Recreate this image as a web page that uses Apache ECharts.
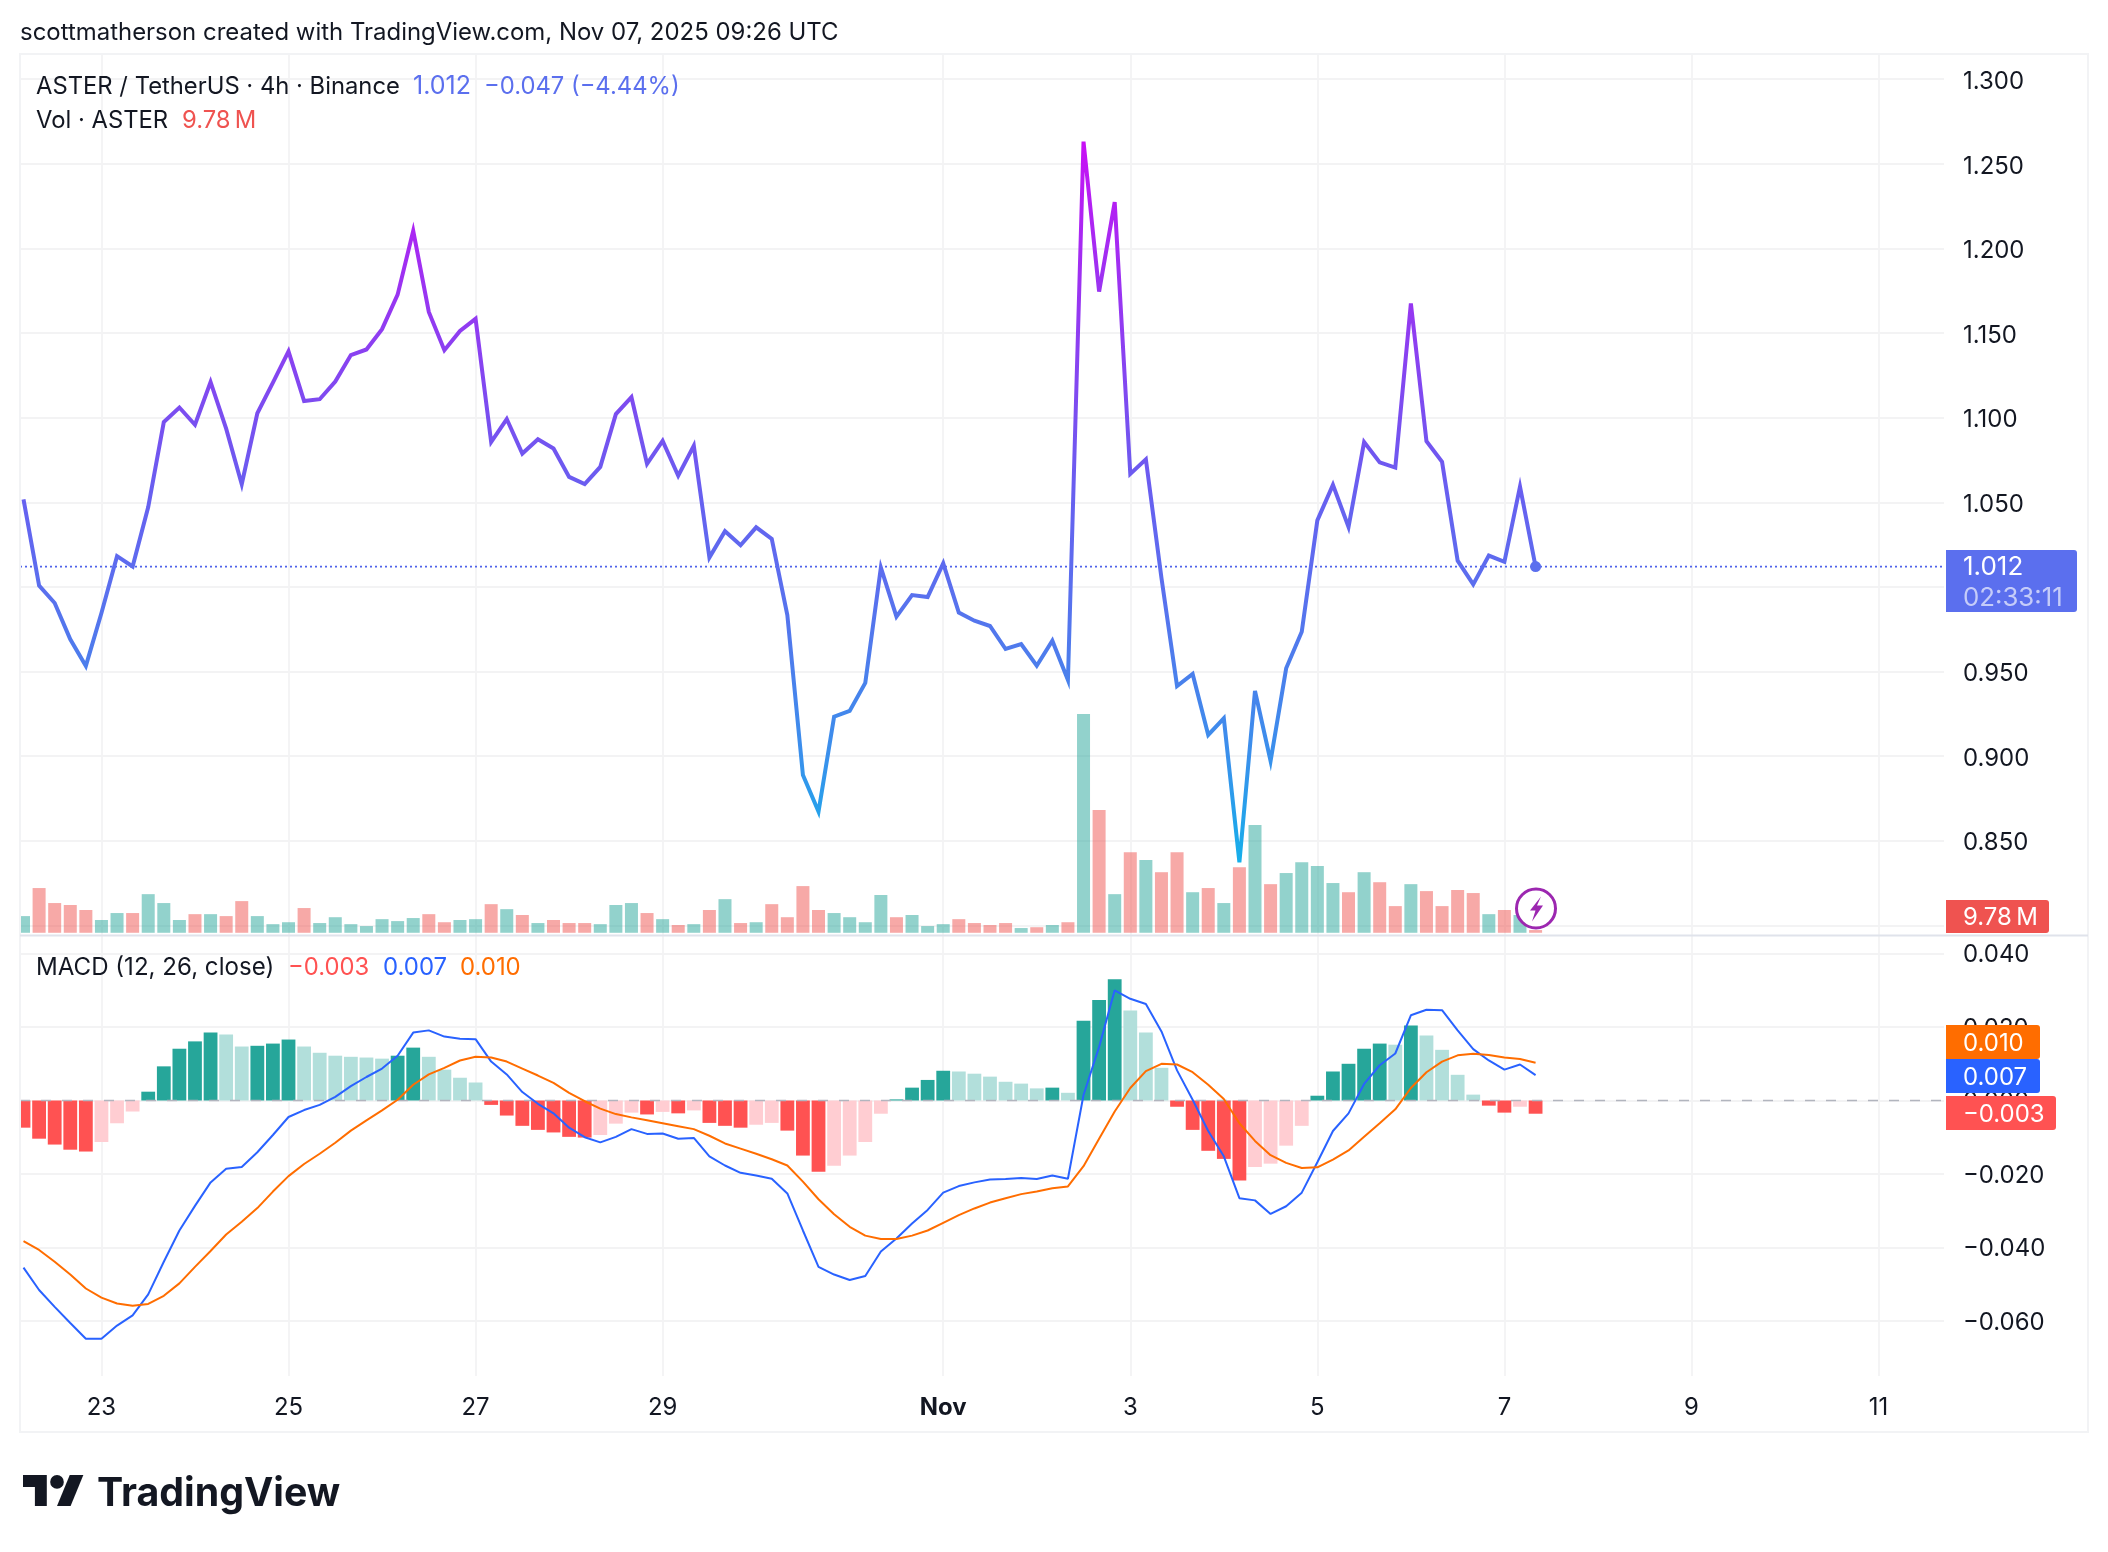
<!DOCTYPE html>
<html lang="en">
<head>
    <meta charset="UTF-8">
    <title>ASTER / TetherUS</title>
    <script src="https://cdn.jsdelivr.net/npm/echarts@6/dist/echarts.min.js"></script>
    <style>
        html, body { margin: 0; padding: 0; background: #fff; }
        #chart { width: 2108px; height: 1552px; }
    </style>
</head>
<body>
    <div id="chart"></div>

    <script>
        // one entry per 4h bar, starting Oct 22 04:00
        const closePrices = [
            1.0517, 1.0008, 0.9905, 0.969, 0.9533, 0.9846, 1.0182, 1.0121, 1.0472, 1.0974,
            1.106, 1.0958, 1.1211, 1.0935, 1.0607, 1.1026, 1.1207, 1.1392, 1.1098, 1.1109,
            1.1214, 1.137, 1.1403, 1.1523, 1.1727, 1.2104, 1.1625, 1.1399, 1.1512, 1.1584,
            1.0856, 1.0992, 1.0788, 1.0872, 1.0818, 1.065, 1.0607, 1.0709, 1.1021, 1.1121,
            1.0727, 1.0863, 1.0657, 1.0834, 1.0173, 1.0329, 1.0246, 1.0352, 1.0284, 0.9834,
            0.8888, 0.8672, 0.9233, 0.9267, 0.9433, 1.0114, 0.9824, 0.9952, 0.994, 1.0139,
            0.9848, 0.98, 0.9769, 0.9633, 0.9662, 0.9534, 0.9682, 0.945, 1.2631, 1.1745,
            1.2274, 1.0668, 1.0754, 1.0053, 0.9414, 0.9486, 0.9125, 0.9223, 0.8373, 0.9385,
            0.8971, 0.9519, 0.9735, 1.0393, 1.0603, 1.0354, 1.0856, 1.0736, 1.0705, 1.1675,
            1.0861, 1.0739, 1.0155, 1.0015, 1.0185, 1.0148, 1.0592, 1.012
        ];
        // millions
        const volumes = [
            60, 161, 107, 100, 82, 46, 71, 71, 139, 107,
            46, 67, 67, 60, 114, 60, 31, 38, 89, 35,
            56, 31, 24, 49, 42, 53, 67, 38, 46, 49,
            103, 85, 64, 35, 46, 35, 35, 31, 100, 107,
            71, 49, 28, 31, 82, 121, 35, 38, 103, 56,
            168, 82, 71, 56, 38, 136, 56, 64, 24, 31,
            49, 35, 28, 35, 17, 20, 28, 38, 787, 442,
            139, 290, 262, 218, 290, 146, 161, 107, 236, 388,
            175, 215, 254, 240, 179, 146, 218, 182, 96, 175,
            150, 96, 154, 143, 67, 82, 64, 9.78
        ];
        const greenVolumeBars = [
            0, 5, 6, 8, 9, 10, 12, 15, 16, 17, 19, 20, 21, 22, 23, 24, 25, 28, 29, 31, 33,
            37, 38, 39, 41, 43, 45, 47, 52, 53, 54, 55, 57, 58, 59, 64, 66, 68, 70, 72, 75,
            77, 79, 81, 82, 83, 84, 86, 89, 94, 96
        ];
        const macdHist = [
            -0.0074, -0.0104, -0.012, -0.0134, -0.0139, -0.0113, -0.0062, -0.003, 0.0024, 0.0093,
            0.0141, 0.0161, 0.0185, 0.018, 0.0147, 0.0149, 0.0155, 0.0166, 0.0147, 0.013,
            0.0122, 0.0119, 0.0117, 0.0114, 0.0122, 0.0144, 0.0119, 0.0084, 0.0062, 0.0049,
            -0.0012, -0.0041, -0.0069, -0.008, -0.0087, -0.0099, -0.0101, -0.0094, -0.0063, -0.0033,
            -0.0038, -0.0031, -0.0035, -0.0027, -0.0061, -0.0069, -0.0074, -0.0066, -0.0061, -0.0082,
            -0.015, -0.0194, -0.0178, -0.015, -0.0113, -0.0036, 0.0003, 0.0035, 0.0056, 0.0081,
            0.0079, 0.0073, 0.0065, 0.0051, 0.0046, 0.0033, 0.0035, 0.0021, 0.0217, 0.0274,
            0.033, 0.0245, 0.0185, 0.0089, -0.0017, -0.008, -0.0137, -0.0159, -0.0218, -0.0181,
            -0.0172, -0.0123, -0.0069, 0.0013, 0.0079, 0.01, 0.0141, 0.0155, 0.0152, 0.0204,
            0.0177, 0.0138, 0.007, 0.0016, -0.0014, -0.0033, -0.0017, -0.0036
        ];
        const macdLine = [
            -0.0455, -0.0516, -0.0562, -0.0606, -0.0649, -0.0649, -0.0613, -0.0585, -0.0528, -0.0439,
            -0.0354, -0.0287, -0.0223, -0.0186, -0.0181, -0.0141, -0.0094, -0.0045, -0.0026, -0.0012,
            0.001, 0.0039, 0.0064, 0.0087, 0.0122, 0.0185, 0.0191, 0.0174, 0.0168, 0.0167,
            0.0106, 0.0071, 0.0023, -0.0009, -0.0035, -0.0074, -0.01, -0.0114, -0.0099, -0.0078,
            -0.0091, -0.009, -0.0104, -0.0102, -0.0152, -0.0177, -0.0197, -0.0204, -0.0213, -0.0253,
            -0.0354, -0.0453, -0.0474, -0.0489, -0.0478, -0.0411, -0.0376, -0.0335, -0.0298, -0.0251,
            -0.0233, -0.0223, -0.0215, -0.0214, -0.0211, -0.0214, -0.0204, -0.0213, 0.0015, 0.0146,
            0.03, 0.0277, 0.0263, 0.0188, 0.0082, 0.0002, -0.0083, -0.0152, -0.0266, -0.0272,
            -0.0309, -0.0288, -0.0251, -0.0168, -0.0083, -0.0035, 0.0045, 0.0096, 0.0128, 0.0232,
            0.0247, 0.0246, 0.0191, 0.014, 0.0109, 0.0084, 0.0098, 0.0069
        ];
        const signalLine = [
            -0.0383, -0.0407, -0.0439, -0.0474, -0.0512, -0.0537, -0.0553, -0.0559, -0.0554, -0.0532,
            -0.0498, -0.0453, -0.041, -0.0365, -0.033, -0.0293, -0.0248, -0.0206, -0.0173, -0.0145,
            -0.0115, -0.0082, -0.0054, -0.0027, 0.0002, 0.0043, 0.0071, 0.0089, 0.0109, 0.0119,
            0.0117, 0.0106, 0.0087, 0.0068, 0.0048, 0.0021, -0.0002, -0.0022, -0.0037, -0.0046,
            -0.0054, -0.0062, -0.007, -0.0078, -0.0096, -0.0117, -0.0131, -0.0145, -0.016, -0.0177,
            -0.0221, -0.0269, -0.031, -0.0344, -0.0368, -0.0377, -0.0377, -0.0368, -0.0354, -0.0333,
            -0.0312, -0.0294, -0.0278, -0.0266, -0.0255, -0.0248, -0.0239, -0.0234, -0.0179, -0.0104,
            -0.003, 0.0034, 0.008, 0.01, 0.0098, 0.0077, 0.0043, 0.0004, -0.0062, -0.011,
            -0.0149, -0.017, -0.0184, -0.0182, -0.0161, -0.0136, -0.0099, -0.0062, -0.0024, 0.0034,
            0.0077, 0.0106, 0.0123, 0.0127, 0.0124, 0.0117, 0.0113, 0.0103
        ];
        const dateTickBars = [5, 17, 29, 41, 59, 71, 83, 95, 107, 119];
        const dateTickLabels = ['23', '25', '27', '29', 'Nov', '3', '5', '7', '9', '11'];
        const priceTicks = [0.8, 0.85, 0.9, 0.95, 1, 1.05, 1.1, 1.15, 1.2, 1.25, 1.3];
        // 0.800 and 1.000 sit behind the volume and price tags
        const priceLabels = [0.85, 0.9, 0.95, 1.05, 1.1, 1.15, 1.2, 1.25, 1.3];
        const macdTicks = [-0.06, -0.04, -0.02, 0, 0.02, 0.04];

        const FONT = 'Inter, "Noto Sans", sans-serif';
        const FONT_SIZE = 23.95;
        const TEXT = '#131722';
        const PRICE_BLUE = '#5B6FEE';
        const GRID = '#F3F3F4';
        const X_MIN = -0.225;
        const X_MAX = 123.2;

        const chart = echarts.init(document.getElementById('chart'), null, { renderer: 'canvas' });

        function minusSign(s) {
            return s.replace('-', '\u2212');
        }

        function histColor(v, i) {
            const prev = i > 0 ? macdHist[i - 1] : v - 1;
            if (v >= 0) return v >= prev ? '#26A69A' : '#B2DFDB';
            return v <= prev || i === 0 ? '#FF5252' : '#FFCDD2';
        }

        function label(text, x, y, fill, size) {
            return {
                type: 'text', z: 50, silent: true,
                style: { text, x, y: y + 1.5, fill, font: `400 ${size || FONT_SIZE}px ${FONT}`, verticalAlign: 'middle' }
            };
        }

        function tag(x, y, w, h, color, lines) {
            const parts = [{ type: 'rect', z: 40, silent: true, shape: { x, y, width: w, height: h, r: [0, 3, 3, 0] }, style: { fill: color } }];
            lines.forEach((l, i) => {
                const item = label(l.text, x + 17, y + h * (i + 0.5) / lines.length, l.fill || '#fff', l.size);
                item.z = 41;
                parts.push(item);
            });
            return parts;
        }

        // TradingView mark, drawn in a 36x18 box
        function logoPoints(points) {
            return points.map(p => [23 + p[0] * 1.7, 1475 + (p[1] - 4) * 1.72]);
        }

        function dateAxis(gridIndex, showLabels) {
            return {
                type: 'value', gridIndex, min: X_MIN, max: X_MAX,
                axisLine: { show: false },
                axisTick: { show: false, customValues: dateTickBars },
                splitLine: { show: true, lineStyle: { color: GRID, width: 1.8 } },
                axisLabel: {
                    show: showLabels, customValues: dateTickBars, margin: 19.5, color: TEXT, fontFamily: FONT, fontSize: FONT_SIZE,
                    hideOverlap: false,
                    formatter: v => {
                        const t = dateTickLabels[dateTickBars.indexOf(v)];
                        return t === 'Nov' ? `{b|${t}}` : t;
                    },
                    rich: { b: { fontWeight: 700, fontFamily: FONT, fontSize: FONT_SIZE, color: TEXT } }
                }
            };
        }

        function valueAxis(gridIndex, min, max, ticks, labels, pad) {
            return {
                type: 'value', gridIndex, min, max, position: 'right',
                axisLine: { show: false },
                axisTick: { show: false, customValues: ticks },
                splitLine: { show: true, lineStyle: { color: GRID, width: 1.8 } },
                axisLabel: {
                    customValues: labels, margin: 19, align: 'left',
                    formatter: v => `{v|${minusSign(v.toFixed(3))}}`,
                    rich: { v: { color: TEXT, fontFamily: FONT, fontSize: FONT_SIZE, padding: [pad, 0, 0, 0] } }
                }
            };
        }

        const lastBar = closePrices.length - 1;
        const lastPrice = closePrices[lastBar];

        const priceGradient = new echarts.graphic.LinearGradient(0, 0, 0, 1, [
            { offset: 0, color: '#C90FF5' },
            { offset: 0.15, color: '#A52BF2' },
            { offset: 0.38, color: '#7A4EF0' },
            { offset: 0.5, color: '#6661F0' },
            { offset: 0.62, color: '#5A6FEE' },
            { offset: 0.74, color: '#4A80EC' },
            { offset: 0.85, color: '#3A90EC' },
            { offset: 1, color: '#14B0EA' }
        ]);

        const graphics = [
            // bars on a value axis are not clipped at the pane edge, so cover the margin
            { type: 'rect', z: 25, silent: true, shape: { x: 0, y: 54, width: 20, height: 1378 }, style: { fill: '#fff' } },
            { type: 'rect', z: 30, silent: true, shape: { x: 20, y: 54, width: 2068, height: 1378 }, style: { fill: 'none', stroke: '#F2F3F5', lineWidth: 2 } },
            { type: 'line', z: 30, silent: true, shape: { x1: 20, y1: 935.5, x2: 2088, y2: 935.5 }, style: { stroke: '#E0E3EB', lineWidth: 2 } },
            label('scottmatherson created with TradingView.com, Nov 07, 2025 09:26 UTC', 20, 31, TEXT),
            label('ASTER / TetherUS \u00b7 4h \u00b7 Binance', 36, 85, TEXT, 23.8),
            label('1.012', 413, 85, PRICE_BLUE, 25),
            label('\u22120.047 (\u22124.44%)', 484, 85, PRICE_BLUE, 23.8),
            label('Vol \u00b7 ASTER', 36, 119, TEXT, 23.8),
            label('9.78\u2009M', 182, 119, '#EF5350', 23.8),
            label('MACD (12, 26, close)', 36, 966, TEXT, 24.1),
            label('\u22120.003', 288, 966, '#FF5252', 23.8),
            label('0.007', 383, 966, '#2962FF'),
            label('0.010', 460, 966, '#FF6D00'),
            ...tag(1946, 550, 131, 62, PRICE_BLUE, [{ text: '1.012', size: 26 }, { text: '02:33:11', fill: '#C5CCF9', size: 25.8 }]),
            ...tag(1946, 900, 103, 33, '#EF5350', [{ text: '9.78\u2009M' }]),
            ...tag(1946, 1025, 94, 34, '#FF6D00', [{ text: '0.010' }]),
            ...tag(1946, 1059, 94, 34, '#2962FF', [{ text: '0.007' }]),
            ...tag(1946, 1096, 110, 34, '#FF5252', [{ text: '\u22120.003' }]),
            { type: 'circle', z: 45, silent: true, shape: { cx: 1536, cy: 908.5, r: 19.5 }, style: { fill: '#fff', stroke: '#9C27B0', lineWidth: 3 } },
            {
                type: 'polygon', z: 46, silent: true,
                shape: { points: [[1541, 896.5], [1530, 910.5], [1535.5, 910.5], [1532, 921.5], [1543, 905.5], [1537, 905.5]] },
                style: { fill: '#9C27B0' }
            },
            { type: 'polygon', z: 50, silent: true, shape: { points: logoPoints([[14, 22], [7, 22], [7, 11], [0, 11], [0, 4], [14, 4]]) }, style: { fill: TEXT } },
            { type: 'polygon', z: 50, silent: true, shape: { points: logoPoints([[28, 22], [20, 22], [27.5, 4], [35.5, 4]]) }, style: { fill: TEXT } },
            { type: 'circle', z: 50, silent: true, shape: { cx: 23 + 20 * 1.7, cy: 1475 + 4 * 1.72, r: 6.8 }, style: { fill: TEXT } },
            {
                type: 'text', z: 50, silent: true,
                style: { text: 'TradingView', x: 97, y: 1494, fill: TEXT, font: `700 39.3px ${FONT}`, verticalAlign: 'middle' }
            }
        ];

        chart.setOption({
            animation: false,
            backgroundColor: '#fff',
            grid: [
                { left: 20, right: 164, top: 54, height: 881 },
                { left: 20, right: 164, top: 936, height: 440 }
            ],
            xAxis: [dateAxis(0, false), dateAxis(1, true)],
            yAxis: [
                valueAxis(0, 0.7943, 1.3149, priceTicks, priceLabels, 5),
                { type: 'value', gridIndex: 0, min: -8, max: 3163, show: false, splitLine: { show: false } },
                valueAxis(1, -0.07503, 0.0448, macdTicks, macdTicks, 3)
            ],
            series: [
                {
                    type: 'bar', name: 'Vol', xAxisIndex: 0, yAxisIndex: 1, barWidth: 13,
                    data: volumes.map((v, i) => ({
                        value: [i, v],
                        itemStyle: { color: greenVolumeBars.includes(i) ? 'rgba(38,166,154,0.5)' : 'rgba(239,83,80,0.5)' }
                    }))
                },
                {
                    type: 'line', name: 'Last price', xAxisIndex: 0, yAxisIndex: 0, showSymbol: false, z: 4,
                    lineStyle: { color: '#4F63EA', type: [2, 3], width: 1.6 },
                    data: [[X_MIN, lastPrice], [X_MAX, lastPrice]]
                },
                {
                    type: 'line', name: 'Price', xAxisIndex: 0, yAxisIndex: 0, symbol: 'none', z: 5,
                    lineStyle: { width: 4, color: priceGradient, join: 'miter', miterLimit: 6 },
                    data: closePrices.map((v, i) => [i, v])
                },
                {
                    type: 'scatter', name: 'Last', xAxisIndex: 0, yAxisIndex: 0, symbolSize: 11, z: 6,
                    itemStyle: { color: PRICE_BLUE, opacity: 1 },
                    data: [[lastBar, lastPrice]]
                },
                {
                    type: 'bar', name: 'Histogram', xAxisIndex: 1, yAxisIndex: 2, barWidth: 13.8,
                    data: macdHist.map((v, i) => ({ value: [i, v], itemStyle: { color: histColor(v, i) } }))
                },
                {
                    type: 'line', name: 'Zero', xAxisIndex: 1, yAxisIndex: 2, showSymbol: false, z: 3,
                    lineStyle: { color: '#B2B5BE', type: [10, 11], width: 1.6 },
                    data: [[X_MIN, 0], [X_MAX, 0]]
                },
                {
                    type: 'line', name: 'MACD', xAxisIndex: 1, yAxisIndex: 2, symbol: 'none', z: 5,
                    lineStyle: { width: 2, color: '#2962FF' },
                    data: macdLine.map((v, i) => [i, v])
                },
                {
                    type: 'line', name: 'Signal', xAxisIndex: 1, yAxisIndex: 2, symbol: 'none', z: 5,
                    lineStyle: { width: 2, color: '#FF6D00' },
                    data: signalLine.map((v, i) => [i, v])
                }
            ],
            graphic: { elements: graphics }
        });
    </script>
</body>
</html>
